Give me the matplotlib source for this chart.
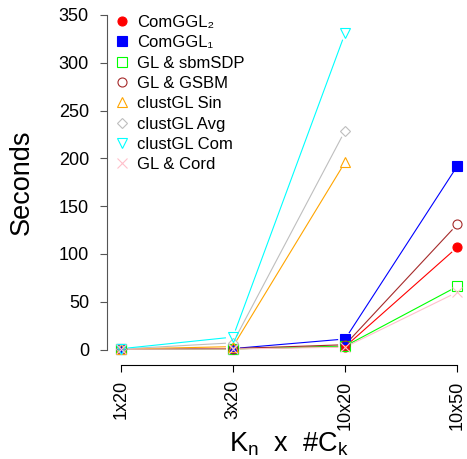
import numpy as np
import matplotlib
matplotlib.use("Agg")
import matplotlib.pyplot as plt
from matplotlib.lines import Line2D

plt.rcParams['font.family'] = ['Liberation Sans', 'DejaVu Sans']

# x categories (Kn x #Ck)
categories = ['1x20', '3x20', '10x20', '10x50']

# seconds per method, nan = not run
comggl2 = [0.5, 0.8, 3, 107]
comggl1 = [0.5, 1, 11, 192]
gl_sbmsdp = [0.3, 0.6, 3.5, 66]
gl_gsbm = [0.5, 1, 5, 131]
clust_sin = [0.5, 3, 196, np.nan]
clust_avg = [0.5, 7, 229, np.nan]
clust_com = [0.8, 13, 331, np.nan]
gl_cord = [0.3, 0.5, 2.5, 60]

series = [
    ('ComGGL\u2082', comggl2, 'red', 'o', True),
    ('ComGGL\u2081', comggl1, 'blue', 's', True),
    ('GL & sbmSDP', gl_sbmsdp, '#00FF00', 's', False),
    ('GL & GSBM', gl_gsbm, '#A52A2A', 'o', False),
    ('clustGL Sin', clust_sin, '#FFA500', '^', False),
    ('clustGL Avg', clust_avg, '#BEBEBE', 'D', False),
    ('clustGL Com', clust_com, '#00FFFF', 'v', False),
    ('GL & Cord', gl_cord, '#FFC0CB', 'x', False),
]

W, H = 467, 459
fig = plt.figure(figsize=(W / 100, H / 100), dpi=100)
# plot region like R: left at 107px, bottom at 365px
ax = fig.add_axes([107 / W, (H - 365) / H, 360 / W, 365 / H])
ax.set_xlim(0.878, 4.086)
ax.set_ylim(-16.2, 365.6)

x = np.arange(1, len(categories) + 1)

# R type="b": line segments with a gap around each point
gap = 7.0
for label, vals, col, mk, filled in series:
    vals = np.asarray(vals, dtype=float)
    for i in range(len(x) - 1):
        if np.isnan(vals[i]) or np.isnan(vals[i + 1]):
            continue
        p0 = ax.transData.transform((x[i], vals[i]))
        p1 = ax.transData.transform((x[i + 1], vals[i + 1]))
        d = p1 - p0
        L = np.hypot(*d)
        if L <= 2 * gap:
            continue
        u = d / L
        q0 = ax.transData.inverted().transform(p0 + u * gap)
        q1 = ax.transData.inverted().transform(p1 - u * gap)
        ax.plot([q0[0], q1[0]], [q0[1], q1[1]], color=col, lw=0.8,
                solid_capstyle='butt', clip_on=False)

handles = []
for label, vals, col, mk, filled in series:
    ms = 6.5 if mk != 'D' else 5.5
    kw = dict(marker=mk, linestyle='none', markersize=ms,
              markeredgecolor=col, markeredgewidth=0.8,
              markerfacecolor=col if filled else 'none')
    ax.plot(x, vals, clip_on=False, **kw)
    handles.append(Line2D([], [], label=label, **kw))

# axes in R style
for s in ['top', 'right']:
    ax.spines[s].set_visible(False)
ax.spines['left'].set_bounds(0, 350)
ax.spines['left'].set_color('#555555')
ax.spines['left'].set_linewidth(0.8)
ax.spines['bottom'].set_bounds(1, 4)
ax.spines['bottom'].set_linewidth(0.8)

ax.set_yticks([0, 50, 100, 150, 200, 250, 300, 350])
ax.set_xticks(x)
ax.set_xticklabels(categories, rotation=90, fontsize=13)
ax.tick_params(axis='y', labelsize=13, length=5, width=0.8, pad=8,
               color='#555555')
ax.tick_params(axis='x', length=5, width=0.8, pad=6)

ax.set_ylabel('Seconds', fontsize=19.5)
ax.yaxis.set_label_coords(35 / W, 1 - 182.5 / H, transform=fig.transFigure)
ax.set_xlabel('K$_\\mathregular{n}$  x  #C$_\\mathregular{k}$', fontsize=19.5)
ax.xaxis.set_label_coords(288.5 / W, 1 - 431 / H, transform=fig.transFigure)

leg = ax.legend(handles=handles, loc='upper left',
                bbox_to_anchor=(113.7 / W, 1 - 15 / H),
                bbox_transform=fig.transFigure, frameon=False, fontsize=12,
                handlelength=1.0, handletextpad=0.4, labelspacing=0.32,
                borderpad=0, borderaxespad=0)

fig.savefig('out.png', dpi=100)
